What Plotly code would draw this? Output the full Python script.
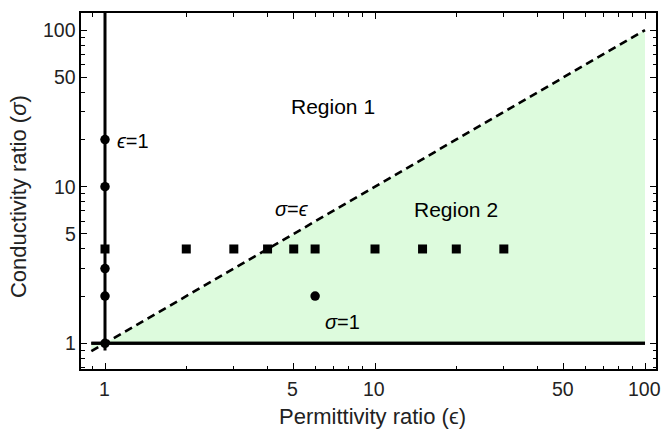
import numpy as np
import plotly.graph_objects as go

# Measured samples: circles along the eps=1 / sigma=1 limits, squares at sigma=4
circle_eps = [1, 1, 1, 1, 1, 6]
circle_sigma = [1, 2, 3, 10, 20, 2]
square_eps = [1, 2, 3, 4, 5, 6, 10, 15, 20, 30]
square_sigma = [4, 4, 4, 4, 4, 4, 4, 4, 4, 4]

# Boundary lines
line_eps = [0.89, 100]
sigma_one = [1, 1]
sigma_eq_eps = [0.89, 100]
eps_one_x = [1, 1]
eps_one_y = [0.9, 200]

major_ticks = [1, 5, 10, 50, 100]
major_labels = ["1", "5", "10", "50", "100"]
minor_x = [0.9, 2, 3, 4, 6, 7, 8, 9, 20, 30, 40, 60, 70, 80, 90]
minor_y = [0.7, 0.8, 0.9, 2, 3, 4, 6, 7, 8, 9, 20, 30, 40, 60, 70, 80, 90]

x_title = "Permittivity ratio (ϵ)"
y_title = "Conductivity ratio (<i>σ</i>)"

FONT = "Liberation Sans, Arial, sans-serif"
TEXT = "#222"

fig = go.Figure()

# sigma = 1 baseline (lower edge of the shaded region)
fig.add_trace(go.Scatter(x=line_eps, y=sigma_one, mode="lines",
                         line=dict(color="black", width=3), showlegend=False))
# sigma = eps, filled down to sigma = 1
fig.add_trace(go.Scatter(x=line_eps, y=sigma_eq_eps, mode="lines",
                         line=dict(color="black", width=2.6, dash="8px,5px"),
                         fill="tonexty", fillcolor="#ddfbdd", showlegend=False))
# redraw sigma = 1 on top of the fill
fig.add_trace(go.Scatter(x=line_eps, y=sigma_one, mode="lines",
                         line=dict(color="black", width=3), showlegend=False))
# eps = 1 vertical
fig.add_trace(go.Scatter(x=eps_one_x, y=eps_one_y, mode="lines",
                         line=dict(color="black", width=3), showlegend=False))

fig.add_trace(go.Scatter(x=square_eps, y=square_sigma, mode="markers",
                         marker=dict(symbol="square", size=9, color="black"),
                         showlegend=False))
fig.add_trace(go.Scatter(x=circle_eps, y=circle_sigma, mode="markers",
                         marker=dict(symbol="circle", size=9.5, color="black"),
                         showlegend=False))

def label(text, x, y, xanchor="center", size=19):
    fig.add_annotation(x=np.log10(x), y=np.log10(y), xref="x", yref="y",
                       text=text, showarrow=False, xanchor=xanchor,
                       yanchor="middle",
                       font=dict(family=FONT, size=size, color="black"))

label("Region 1", 7.0, 32.4, size=21)
label("Region 2", 19.9, 7.1, size=21)
label("<i>ϵ</i>=1", 1.09, 19.6, xanchor="left", size=20)
label("<i>σ</i>=<i>ϵ</i>", 4.94, 7.2, size=20)
label("<i>σ</i>=1", 7.6, 1.37, size=20)

# Tick labels placed beside the frame
for v, t in zip(major_ticks, major_labels):
    fig.add_annotation(x=np.log10(v), y=0, xref="x", yref="paper",
                       text=t, showarrow=False, xanchor="center",
                       yanchor="top", yshift=-7, xshift=-1,
                       font=dict(family=FONT, size=19.5, color=TEXT))
    fig.add_annotation(x=0, y=np.log10(v), xref="paper", yref="y",
                       text=t, showarrow=False, xanchor="right", align="right",
                       yanchor="middle", xshift=-3,
                       font=dict(family=FONT, size=19.5, color=TEXT))

# Axis titles
fig.add_annotation(x=0.507, y=0, xref="paper", yref="paper", text=x_title,
                   showarrow=False, xanchor="center", yanchor="top",
                   yshift=-33, font=dict(family=FONT, size=22, color=TEXT))
fig.add_annotation(x=0, y=0.483, xref="paper", yref="paper", text=y_title,
                   showarrow=False, xanchor="center", yanchor="middle",
                   textangle=-90, xshift=-63,
                   font=dict(family=FONT, size=22, color=TEXT))

axis_common = dict(
    type="log", showgrid=False, zeroline=False, automargin=False,
    showline=True, linecolor="black", linewidth=2, mirror="allticks",
    ticks="inside", ticklen=6, tickwidth=1.3, tickcolor="black",
    tickmode="array", tickvals=major_ticks, showticklabels=False,
)

fig.update_xaxes(**axis_common, range=[-0.0889, 2.0407],
                 minor=dict(tickmode="array", tickvals=minor_x, ticks="inside",
                            ticklen=3.5, tickwidth=1.3, tickcolor="black"))
fig.update_yaxes(**axis_common, range=[np.log10(0.685), np.log10(128.5)],
                 minor=dict(tickmode="array", tickvals=minor_y, ticks="inside",
                            ticklen=3.5, tickwidth=1.3, tickcolor="black"))

fig.update_layout(
    width=662, height=431,
    margin=dict(l=81, r=6, t=13, b=62),
    plot_bgcolor="white", paper_bgcolor="white",
)

fig.write_html("out.html")
